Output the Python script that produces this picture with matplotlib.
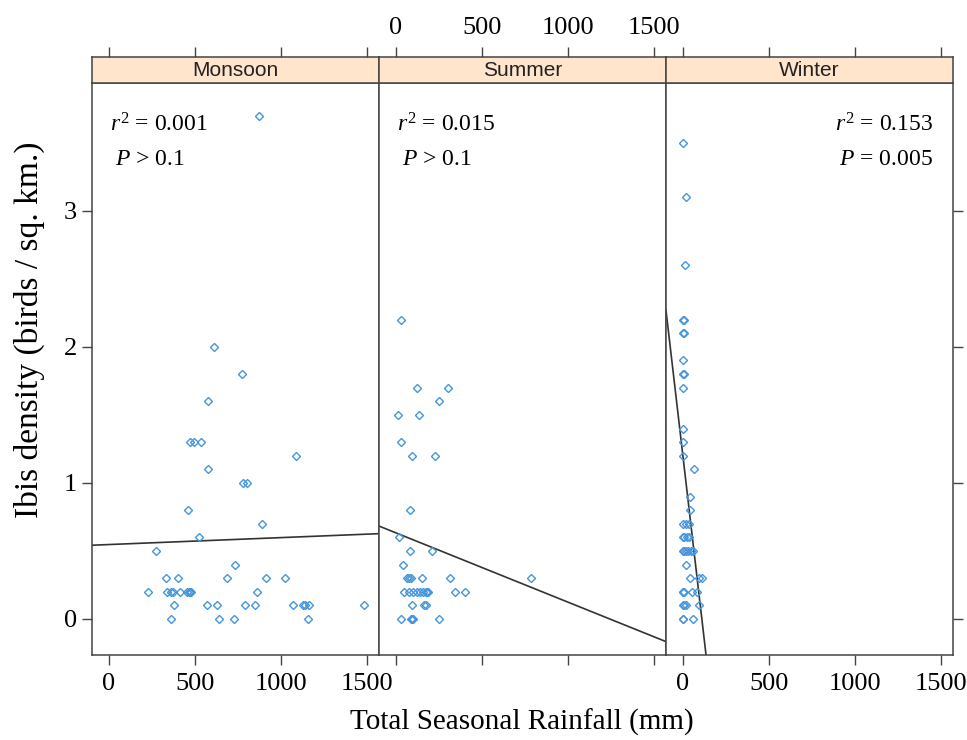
import matplotlib
matplotlib.use("Agg")
import matplotlib.pyplot as plt
import numpy as np

serif = ["Liberation Serif", "DejaVu Serif"]
params = {
    'font.family': serif,
    'mathtext.fontset': 'custom',
    'mathtext.rm': 'Liberation Serif',
    'mathtext.it': 'Liberation Serif:italic',
    'axes.linewidth': 1.1,
    'axes.edgecolor': '#444444',
}
plt.rcParams.update(params)

# data (rainfall in mm, density in birds / sq. km.)
seasons = ["Monsoon", "Summer", "Winter"]

monsoon_rain = [870, 608, 773, 575, 471, 494, 537, 1088, 575, 780, 804, 459, 890, 522,
                273, 733,
                333, 404, 684, 912, 1022,
                229, 337, 361, 373, 410, 455, 463, 471, 478, 859,
                380, 567, 629, 788, 849, 1071, 1126, 1141, 1161, 1481,
                363, 637, 726, 1153]
monsoon_density = [3.7, 2.0, 1.8, 1.6, 1.3, 1.3, 1.3, 1.2, 1.1, 1.0, 1.0, 0.8, 0.7, 0.6,
                   0.5, 0.4,
                   0.3, 0.3, 0.3, 0.3, 0.3,
                   0.2, 0.2, 0.2, 0.2, 0.2, 0.2, 0.2, 0.2, 0.2, 0.2,
                   0.1, 0.1, 0.1, 0.1, 0.1, 0.1, 0.1, 0.1, 0.1, 0.1,
                   0.0, 0.0, 0.0, 0.0]

summer_rain = [29, 125, 305, 250, 10, 133, 31, 94, 229, 84, 16, 84, 209, 39,
               63, 78, 86, 149, 313, 782,
               49, 78, 102, 125, 141, 156, 172, 180, 188, 344, 399,
               94, 164, 176,
               31, 86, 94, 102, 250]
summer_density = [2.2, 1.7, 1.7, 1.6, 1.5, 1.5, 1.3, 1.2, 1.2, 0.8, 0.6, 0.5, 0.5, 0.4,
                  0.3, 0.3, 0.3, 0.3, 0.3, 0.3,
                  0.2, 0.2, 0.2, 0.2, 0.2, 0.2, 0.2, 0.2, 0.2, 0.2, 0.2,
                  0.1, 0.1, 0.1,
                  0.0, 0.0, 0.0, 0.0, 0.0]

winter_rain = [0, 17, 10, 0, 4, 0, 4, 0, 0, 4, 2, 0, 0, 0, 64, 43, 43,
               0, 19, 33, 0, 8, 21, 35, 0, 8, 17, 29, 45, 56, 17,
               41, 91, 112, 0, 3, 8, 52, 83, 0, 4, 17, 95, 0, 3, 56]
winter_density = [3.5, 3.1, 2.6, 2.2, 2.2, 2.1, 2.1, 1.9, 1.8, 1.8, 1.7, 1.4, 1.3, 1.2, 1.1, 0.9, 0.8,
                  0.7, 0.7, 0.7, 0.6, 0.6, 0.6, 0.6, 0.5, 0.5, 0.5, 0.5, 0.5, 0.5, 0.4,
                  0.3, 0.3, 0.3, 0.2, 0.2, 0.2, 0.2, 0.2, 0.1, 0.1, 0.1, 0.1, 0.0, 0.0, 0.0]

# fitted lines (intercept, slope) and the printed statistics
fits = [(0.547, 5.1e-5), (0.633, -5.1e-4), (1.20, -0.0109)]
r2_labels = ["0.001", "0.015", "0.153"]
p_labels = ["$P$ > 0.1", "$P$ > 0.1", "$P$ = 0.005"]

rain = [monsoon_rain, summer_rain, winter_rain]
density = [monsoon_density, summer_density, winter_density]

xticks = [0, 500, 1000, 1500]
yticks = [0, 1, 2, 3]
xlim = (-98, 1568)
ylim = (-0.265, 3.94)

point_color = '#4596dc'
frame_color = '#444444'
tick_size = 19

fig = plt.figure(figsize=(9.67, 7.4), dpi=100)

left, bottom = 92 / 967, 1 - 655 / 740
width = (953 - 92) / 3 / 967
height = (655 - 83) / 740
strip_h = 26 / 740

for i, season in enumerate(seasons):
    ax = fig.add_axes([left + i * width, bottom, width, height])
    strip = fig.add_axes([left + i * width, bottom + height, width, strip_h], sharex=ax)

    ax.plot(np.array(rain[i]), np.array(density[i]), linestyle='none', marker='D',
            markersize=4.4, markerfacecolor='none', markeredgecolor=point_color,
            markeredgewidth=1.0, clip_on=False, zorder=3)

    a, b = fits[i]
    xs = np.array(xlim)
    ax.plot(xs, a + b * xs, color='#333333', linewidth=1.2, zorder=2)

    ax.set_xlim(*xlim)
    ax.set_ylim(*ylim)
    ax.set_xticks(xticks)
    ax.set_yticks(yticks)
    ax.tick_params(direction='out', length=7, width=1, color=frame_color,
                   labelsize=tick_size, pad=4)
    ax.tick_params(axis='x', bottom=True, top=False, labelbottom=(i != 1), pad=6)
    ax.tick_params(axis='y', left=(i == 0), right=(i == 2),
                   labelleft=(i == 0), labelright=False)

    # r^2 and P annotations
    if i < 2:
        ax.text(0.063, 0.926, r"$r^{2}$ = " + r2_labels[i], transform=ax.transAxes,
                fontsize=17, ha='left', va='center')
        ax.text(0.08, 0.866, p_labels[i], transform=ax.transAxes,
                fontsize=17, ha='left', va='center')
    else:
        ax.text(0.93, 0.926, r"$r^{2}$ = " + r2_labels[i], transform=ax.transAxes,
                fontsize=17, ha='right', va='center')
        ax.text(0.93, 0.866, p_labels[i], transform=ax.transAxes,
                fontsize=17, ha='right', va='center')

    strip.set_facecolor('#ffe5cc')
    strip.set_yticks([])
    strip.tick_params(axis='x', direction='out', length=7, width=1, color=frame_color,
                      top=True, bottom=False, labeltop=(i == 1), labelbottom=False,
                      labelsize=tick_size, pad=6)
    strip.text(0.5, 0.47, season, transform=strip.transAxes, ha='center', va='center',
               fontsize=15, color='#222222',
               family=['Liberation Sans Narrow', 'Liberation Sans', 'DejaVu Sans'])

fig.text(0.540, 0.024, "Total Seasonal Rainfall (mm)", ha='center', va='center', fontsize=21)
fig.text(0.030, 0.554, "Ibis density (birds / sq. km.)", ha='center', va='center',
         rotation=90, fontsize=24)

fig.savefig("out.png", dpi=100)
